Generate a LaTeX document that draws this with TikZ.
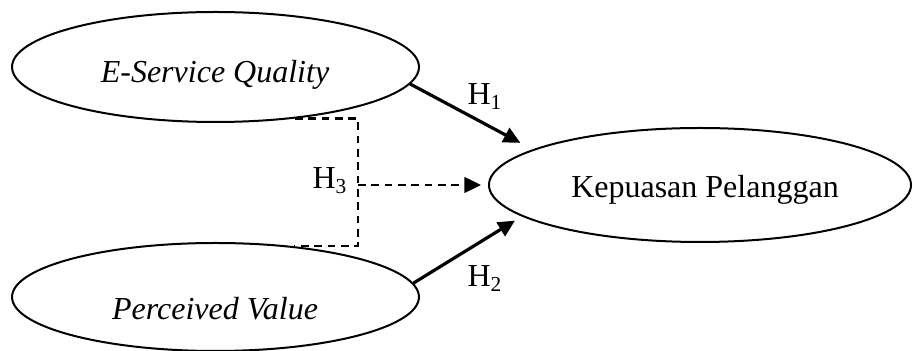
\documentclass[tikz,border=0pt]{standalone}
\usepackage{fontspec}
\setmainfont{Liberation Serif}
\usepackage{tikz}
\usetikzlibrary{arrows.meta,positioning,shapes.geometric}

\begin{document}
\begin{tikzpicture}[x=0.375pt, y=-0.375pt,
  latent/.style={draw=black, ellipse, inner sep=0pt, line width=.75pt, minimum width=152.6pt, minimum height=41.25pt},
  lbl/.style={inner sep=0pt, font=\fontsize{12}{14}\selectfont},
  edge/.style={-{Triangle[length=6.3pt, width=5.9pt]}, draw=black, line width=1.2pt},
  dedge/.style={edge, line width=.9pt, dash pattern=on 2.9pt off 2.1pt}
]
\useasboundingbox (0,0) rectangle (913,351);
\node[latent] (esq) at (215.5,67) {};
\node[latent, minimum height=40.5pt] (pv) at (215.5,297) {};
\node[latent, minimum width=158.25pt, minimum height=42.75pt] (kp) at (700,185) {};
\node[lbl, anchor=base] (esq-t) at (215,83) {\itshape E-Service Quality};
\node[lbl, anchor=base] (pv-t) at (215,320) {\itshape Perceived Value};
\node[lbl, anchor=base] (kp-t) at (705,198) {Kepuasan Pelanggan};
\foreach \a/\b/\s in {esq.-5/kp.168/5.2, pv.4/kp.-170/3.0}{\draw[edge, shorten >=\s pt] (\a)--(\b);}
\node[lbl, anchor=base west] (h1) at (467,105) {H\textsubscript{1}};
\node[lbl, anchor=base west] (h2) at (467,287) {H\textsubscript{2}};
% moderating path
\coordinate (m) at (358,185);
\draw[line width=.9pt, dash pattern=on 2.9pt off 2.1pt] (esq.-33) -| (m) |- (pv.33);
\draw[dedge, shorten >=2.6pt] (m)--(kp);
\node[lbl, anchor=base west] (h3) at (312,189) {H\textsubscript{3}};
\end{tikzpicture}
\end{document}
